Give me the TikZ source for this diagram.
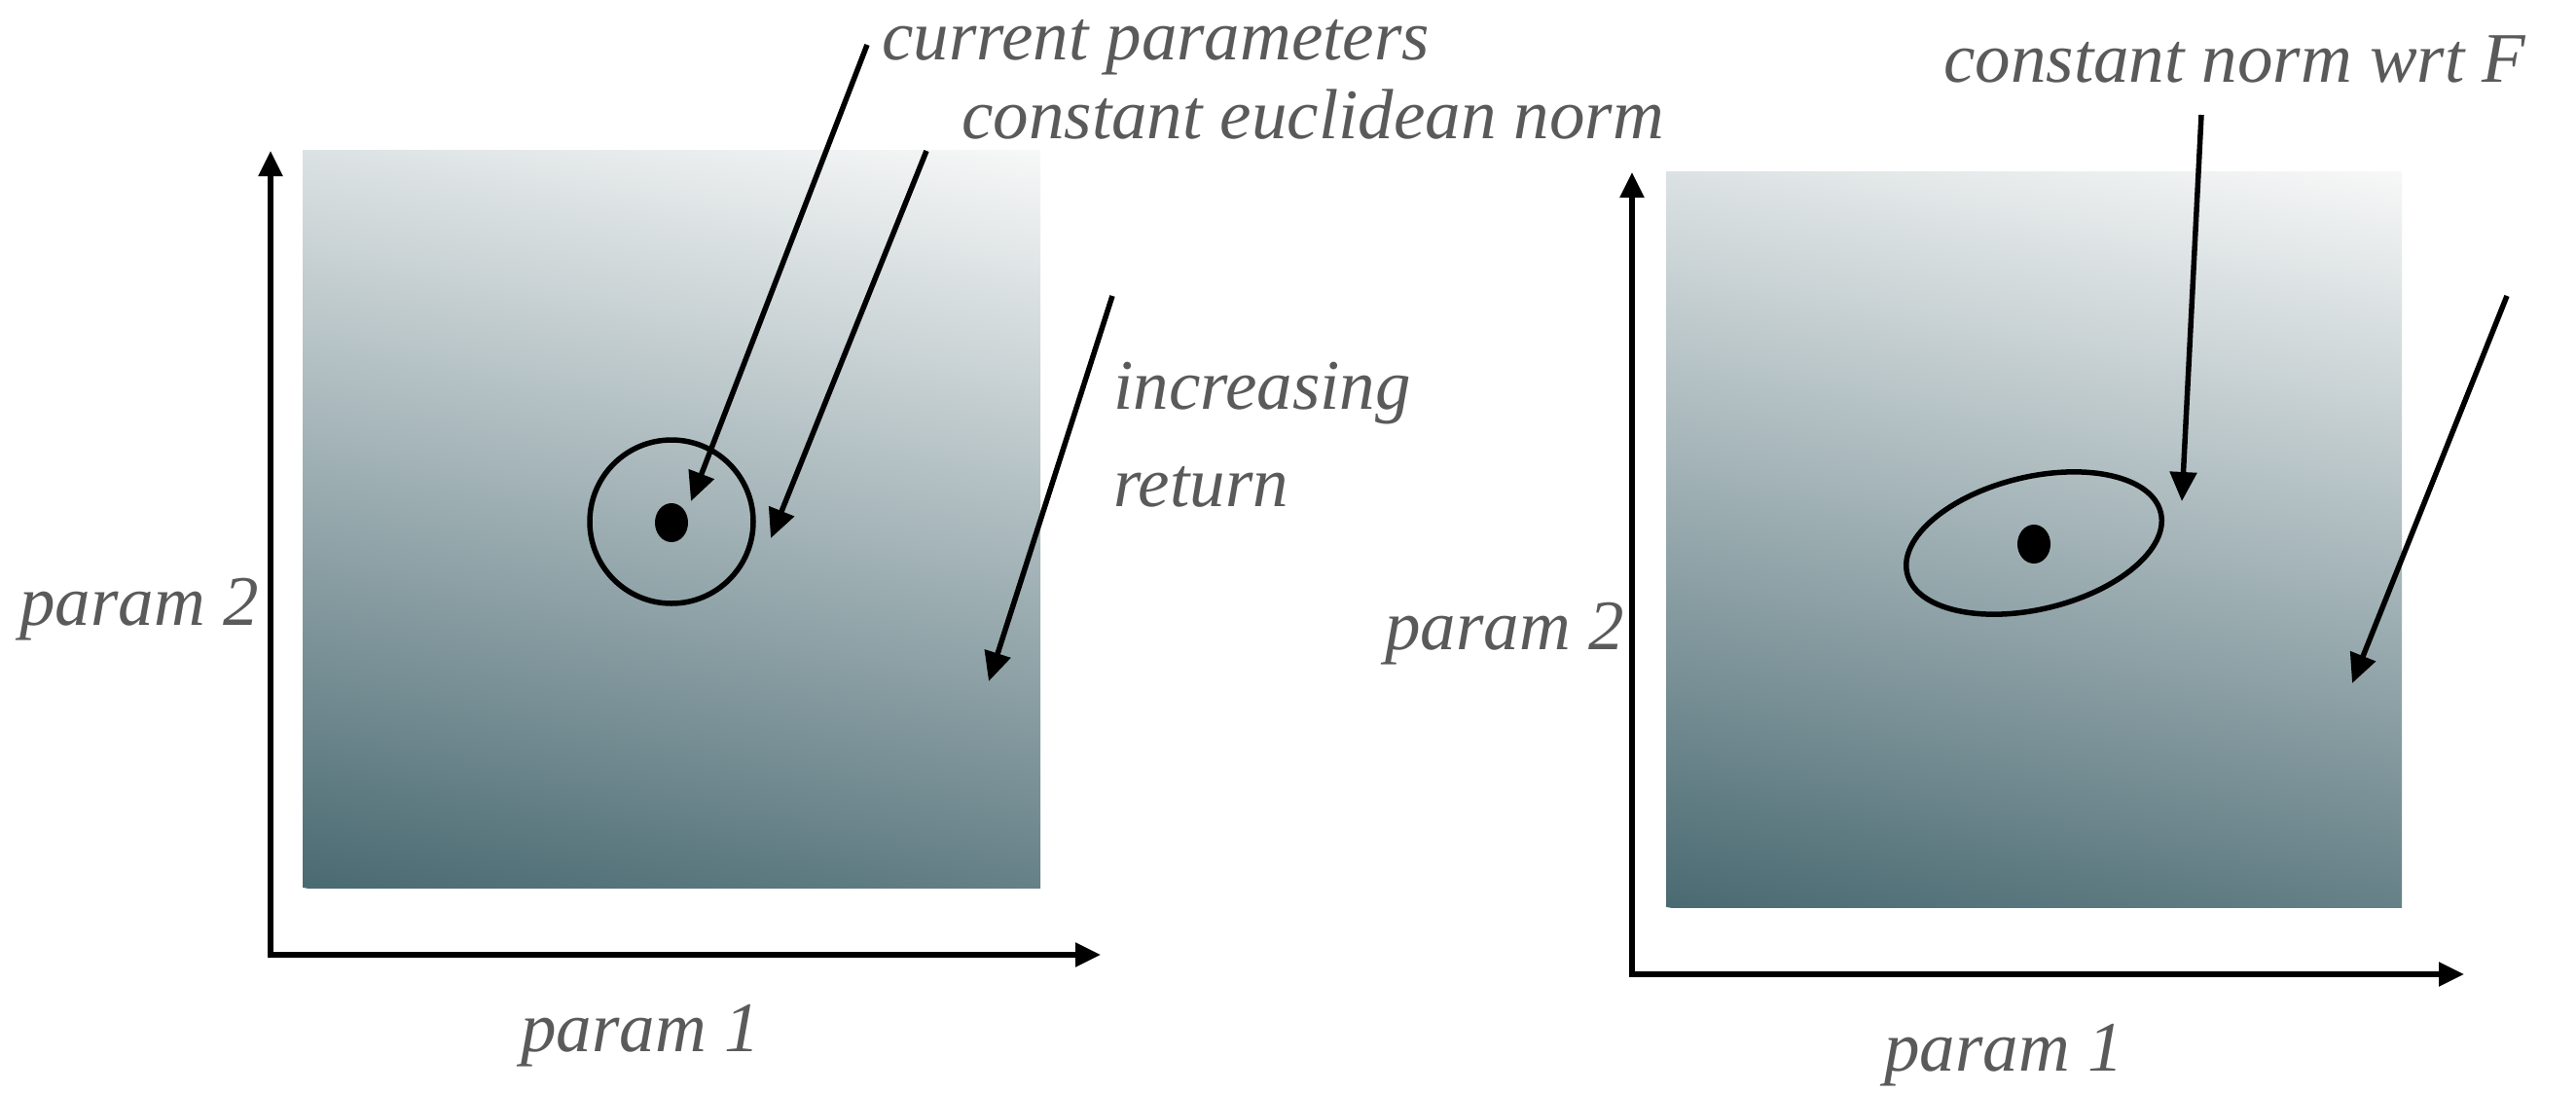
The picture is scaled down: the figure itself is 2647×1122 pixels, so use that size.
\documentclass[tikz,border=0pt]{standalone}
\usepackage{fontspec}
\setmainfont{Liberation Serif}
\usetikzlibrary{arrows.meta,shapes.geometric}
\definecolor{txt}{HTML}{5A5A5A}
\definecolor{gdark}{RGB}{74,106,114}
\definecolor{glight}{RGB}{247,248,248}
\begin{document}
\begin{tikzpicture}[x=1pt,y=-1pt,
  lbl/.style={font=\fontsize{73}{88}\selectfont\itshape, text=txt, inner sep=0pt, anchor=base west},
  arr/.style={line width=5.5pt, -{Triangle[length=30pt,width=27pt]}},
  axes/.style={line width=5.5pt, {Triangle[length=26pt,width=24pt]}-{Triangle[length=26pt,width=24pt]}},
  grad/.style={top color=glight, bottom color=gdark},
  dot/.style={fill=black, ellipse, minimum width=34pt, minimum height=40pt, inner sep=0pt}]
\useasboundingbox[fill=white] (0,0) rectangle (2647,1122);
% ---------------- left panel
\begin{scope}
  \clip (311,154) rectangle (1069,912);
  \begin{scope}[transform canvas={rotate around={-10.5:(690,533)}}]
    \shade[grad] (150,91.4) rectangle (1230,974.6);
  \end{scope}
\end{scope}
\coordinate (Y1) at (278,155);
\coordinate (O1) at (278,981);
\coordinate (X1) at (1131,981);
\draw[axes] (Y1) -- (O1) -- (X1);
\node[draw, circle, line width=5.5pt, minimum size=168pt, inner sep=0pt] (C1) at (690,536) {};
\node[dot] (D1) at (690,537) {};
\node[lbl] (cp) at (906,61) {current parameters};
\node[lbl] (cen) at (988,142) {constant euclidean norm};
\node[lbl] (inc) at (1144,420) {increasing};
\node[lbl] (ret) at (1144,520) {return};
\node[lbl] (p2l) at (20,642) {param 2};
\node[lbl] (p1l) at (535,1080) {param 1};
\coordinate (a1s) at (891,46);
\coordinate (a1e) at (710,515);
\coordinate (a2s) at (952,155);
\coordinate (a2e) at (792,553);
\coordinate (a3s) at (1143,304);
\coordinate (a3e) at (1016,700);
\draw[arr] (a1s) -- (a1e);
\draw[arr] (a2s) -- (a2e);
\draw[arr] (a3s) -- (a3e);
% ---------------- right panel
\begin{scope}
  \clip (1712,176) rectangle (2468,932);
  \begin{scope}[transform canvas={rotate around={-10.5:(2090,554)}}]
    \shade[grad] (1550,113.6) rectangle (2630,994.4);
  \end{scope}
\end{scope}
\coordinate (Y2) at (1677,177);
\coordinate (O2) at (1677,1001);
\coordinate (X2) at (2532,1001);
\draw[axes] (Y2) -- (O2) -- (X2);
\node[draw, ellipse, line width=5.5pt, minimum width=268pt, minimum height=136pt, inner sep=0pt, rotate=13.5] (E2) at (2090,558) {};
\node[dot] (D2) at (2090,559) {};
\node[lbl] (cnf) at (1997,84) {constant norm wrt \textit{F}};
\node[lbl] (p2r) at (1423,667) {param 2};
\node[lbl] (p1r) at (1936,1100) {param 1};
\coordinate (b1s) at (2262,118);
\coordinate (b1e) at (2242,515);
\coordinate (b2s) at (2576,304);
\coordinate (b2e) at (2417,702);
\draw[arr] (b1s) -- (b1e);
\draw[arr] (b2s) -- (b2e);
\end{tikzpicture}
\end{document}
